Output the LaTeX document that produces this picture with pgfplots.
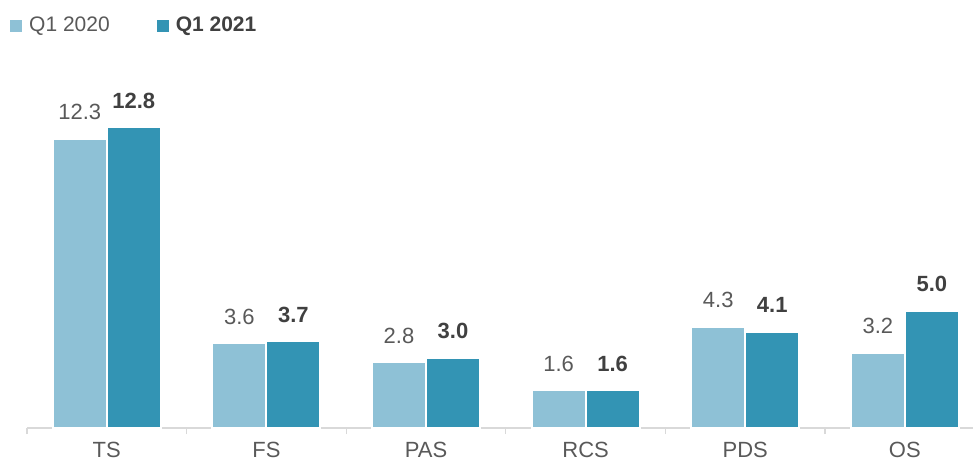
\documentclass[border=0pt]{standalone}
\usepackage{fontspec}
\setmainfont{Liberation Sans}
\usepackage{pgfplots}
\pgfplotsset{compat=1.18}
\definecolor{cLight}{HTML}{8EC1D6}
\definecolor{cDark}{HTML}{3394B4}
\definecolor{txt}{HTML}{595959}
\definecolor{txtB}{HTML}{404040}
\definecolor{axl}{HTML}{D9D9D9}
\begin{document}
\begin{tikzpicture}
\useasboundingbox (-27pt,-33pt) rectangle (946pt,428pt);
\begin{axis}[
  at={(0pt,0pt)}, anchor=south west,
  scale only axis, width=957.6pt, height=427.7pt,
  xmin=-0.5, xmax=5.5, ymin=0, ymax=18.2,
  clip=false,
  axis x line=bottom, axis y line=none,
  x axis line style={draw=axl, line width=1.2pt, -},
  xtick={0,...,5}, xticklabels={TS,FS,PAS,RCS,PDS,OS},
  major tick length=0pt,
  minor xtick={-0.5,0.5,...,5.5}, minor tick length=6pt, tick align=outside,
  minor tick style={draw=axl, line width=1.2pt},
  x tick label style={font=\fontsize{22}{26}\selectfont, text=txt, yshift=-11pt},
  ybar, bar width=54pt,
  point meta=y,
  nodes near coords={\pgfmathprintnumber[assume math mode=true,fixed,fixed zerofill,precision=1]{\pgfplotspointmeta}},
  legend style={at={(axis description cs:0,1)}, anchor=north west, xshift=-20pt, yshift=-12pt,
    draw=none, fill=none, font=\fontsize{21}{25}\selectfont,
    /tikz/every even column/.append style={column sep=45pt}},
  legend columns=2,
  legend image code/.code={\fill[#1, draw=none] (0pt,-7pt) rectangle (12pt,5pt); \path[draw=none,fill=none] (0pt,0pt) -- (17pt,0pt);},
]
\addplot[fill=cLight, draw=white, line width=2pt, bar shift=-27pt,
  every node near coord/.append style={anchor=base, yshift=19pt, font=\fontsize{22}{26}\selectfont, text=txt}]
  coordinates {(0,12.3) (1,3.6) (2,2.8) (3,1.6) (4,4.3) (5,3.2)};
\addlegendentry{\textcolor{txt}{Q1 2020}}
\addplot[fill=cDark, draw=white, line width=2pt, bar shift=27pt,
  every node near coord/.append style={anchor=base, yshift=19pt, font=\fontsize{22}{26}\selectfont\bfseries, text=txtB}]
  coordinates {(0,12.8) (1,3.7) (2,3.0) (3,1.6) (4,4.1) (5,5.0)};
\addlegendentry{\textcolor{txtB}{\bfseries Q1 2021}}
\end{axis}
\end{tikzpicture}
\end{document}
